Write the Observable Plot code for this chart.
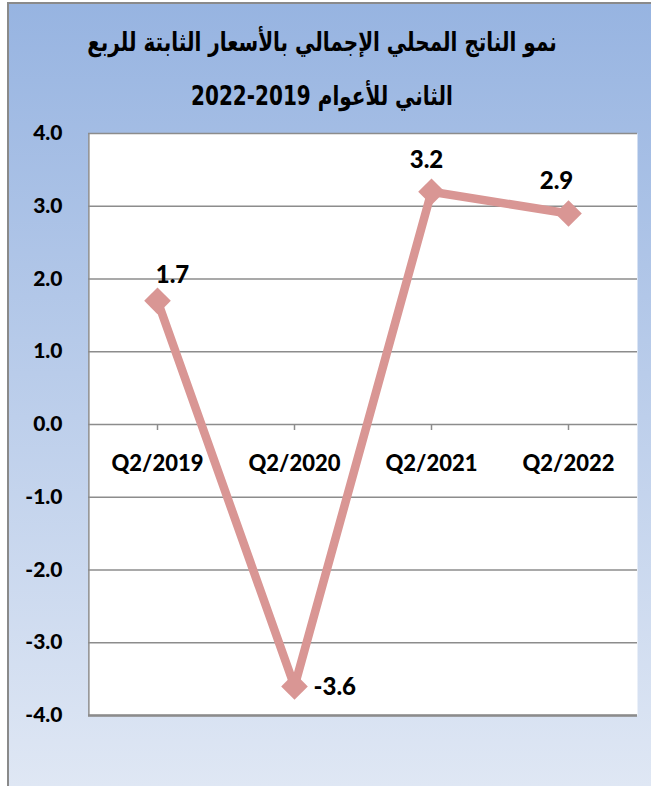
<!DOCTYPE html>
<html>
<head>
<meta charset="utf-8">
<script src="https://cdn.jsdelivr.net/npm/d3@7"></script>
<script src="https://cdn.jsdelivr.net/npm/@observablehq/plot@0.6"></script>
<style>
  html, body { margin: 0; padding: 0; background: #ffffff; }
  #page { position: relative; width: 651px; height: 786px; overflow: hidden; }
  #bg { position: absolute; left: 7px; top: 2px; width: 644px; height: 784px;
        background: linear-gradient(#97b4e1, #dfe7f4);
        border-left: 2px solid #8a8a8a; border-top: 2px solid #8a8a8a; box-sizing: border-box; }
  #title { position: absolute; left: 0; top: 0; width: 644px; height: 120px;
           direction: rtl; text-align: center; font-family: "DejaVu Sans", sans-serif;
           font-weight: bold; color: #000; }
  #title .l1 { position: absolute; left: 0; right: 0; top: 24px; font-size: 20px; line-height: 36px;
               transform: scaleY(1.3); }
  #title .l2 { position: absolute; left: 0; right: 0; top: 78px; font-size: 20px; line-height: 36px;
               transform: scaleY(1.3); }
  #chart { position: absolute; left: 0; top: 120px; }
</style>
</head>
<body>
<div id="page">
  <div id="bg"></div>
  <div id="title"><div class="l1"></div><div class="l2"></div></div>
  <div id="chart"></div>
</div>
<script>
const titleLine1 = "نمو الناتج المحلي الإجمالي  بالأسعار الثابتة للربع";
const titleLine2 = "الثاني للأعوام 2019\u200F-2022";
const quarters = ["Q2/2019", "Q2/2020", "Q2/2021", "Q2/2022"];
const growth = [1.7, -3.6, 3.2, 2.9];
const yTicks = [-4, -3, -2, -1, 0, 1, 2, 3, 4];

document.querySelector("#title .l1").textContent = titleLine1;
document.querySelector("#title .l2").textContent = titleLine2;

const data = quarters.map((q, i) => ({q, v: growth[i]}));
const lineColor = "#d99694";
const gridColor = "#8c8c8c";
const font = "Lato, 'Open Sans', sans-serif";

const W = 651, H = 666, ML = 88, MR = 14, MT = 13, MB = 71;
const halfStep = (W - ML - MR) / quarters.length / 2;

// label placement (style) per point
const labelStyle = [
  {dx: 15, dy: -26, textAnchor: "middle"},
  {dx: 19, dy: 1, textAnchor: "start"},
  {dx: -5, dy: -31, textAnchor: "middle"},
  {dx: -12, dy: -32, textAnchor: "middle"}
];

const labelMarks = labelStyle.map((s, i) =>
  Plot.text(data, {
    filter: (d, j) => j === i,
    x: "q", y: "v", text: d => d.v.toFixed(1),
    dx: s.dx, dy: s.dy, textAnchor: s.textAnchor,
    fontSize: 24, fontWeight: 900, fill: "#000"
  })
);

const chart = Plot.plot({
  width: W,
  height: H,
  marginTop: MT,
  marginBottom: MB,
  marginLeft: ML,
  marginRight: MR,
  style: {background: "transparent", fontFamily: font, color: "#000", overflow: "visible"},
  x: {type: "point", domain: quarters, padding: 0.5, axis: null},
  y: {domain: [-4, 4], axis: null},
  marks: [
    Plot.frame({fill: "white", stroke: "none"}),
    Plot.ruleY(yTicks, {stroke: gridColor, strokeWidth: 1.5}),
    Plot.ruleY([-4], {stroke: gridColor, strokeWidth: 2.5}),
    Plot.ruleX([quarters[0]], {x: d => d, dx: -halfStep, stroke: gridColor, strokeWidth: 1.5}),
    Plot.ruleX(quarters, {x: d => d, y1: 0, y2: 0, insetBottom: -6, stroke: gridColor, strokeWidth: 1.5}),
    Plot.axisY(yTicks, {
      tickSize: 0, tickPadding: 26, tickFormat: d => d.toFixed(1),
      fontSize: 21, fontWeight: 900, label: null
    }),
    Plot.text(quarters, {x: d => d, y: 0, dy: 39, fontSize: 22, fontWeight: 900, fill: "#000"}),
    Plot.line(data, {x: "q", y: "v", stroke: lineColor, strokeWidth: 8.5, strokeLinejoin: "miter"}),
    Plot.dot(data, {x: "q", y: "v", symbol: "diamond2", r: 12, fill: lineColor, stroke: "none"}),
    ...labelMarks
  ]
});
document.getElementById("chart").appendChild(chart);
</script>
</body>
</html>
